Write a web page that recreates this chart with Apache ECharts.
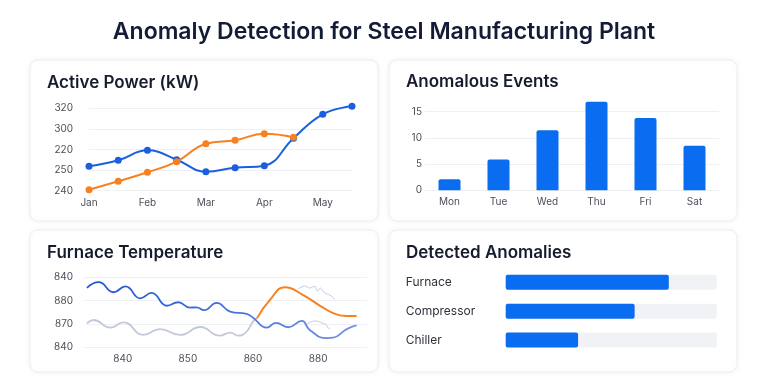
<!DOCTYPE html>
<html>
<head>
<meta charset="utf-8">
<script src="https://cdn.jsdelivr.net/npm/echarts@6/dist/echarts.min.js"></script>
<style>
html,body{margin:0;padding:0;background:#ffffff;}
#c{width:768px;height:382px;}
</style>
</head>
<body>
<div id="c"></div>
<script>
// ---- Data ----
var mainTitle = 'Anomaly Detection for Steel Manufacturing Plant';
var panelTitles = ['Active Power (kW)', 'Anomalous Events', 'Furnace Temperature', 'Detected Anomalies'];

// Active Power
var powerCategories = ['Jan', '', 'Feb', '', 'Mar', '', 'Apr', '', 'May', ''];
var powerTickLabels = {240: '240', 260: '250', 280: '220', 300: '300', 320: '320'};
var powerBlue = [263.7, 269.5, 279.2, 270.1, 258.5, 262.3, 264.3, 291, 314.2, 322];
var powerOrange = [241, 249.1, 257.9, 268.2, 285.6, 289, 295.3, 291.9];

// Anomalous Events
var eventDays = ['Mon', 'Tue', 'Wed', 'Thu', 'Fri', 'Sat'];
var eventCounts = [2.1, 5.9, 11.45, 16.9, 13.8, 8.5];

// Furnace Temperature
var furnaceXLabels = {840: '840', 850: '850', 860: '860', 870: '880'};
var furnaceYLabels = {840: '840', 850: '870', 860: '880', 870: '840'};
var furnaceBlue = [[834.5,865.5],[836.3,867.9],[838.6,863.6],[840.4,866.1],[842.7,861.0],[844.4,863.3],[846.8,857.8],[848.5,859.3],[850.3,857.0],[851.3,857.1],[852.5,855.9],[854.4,859.0],[856.5,855.3],[859.0,854.3],[860.0,852.7],[862.1,848.4],[863.5,850.5],[865.4,848.6],[867.5,851.3],[868.7,847.4],[871.3,843.9],[872.3,844.1],[874.4,847.8],[875.9,849.4]];
var furnaceGray = [[834.5,850.3],[835.5,851.7],[838.1,848.4],[840.1,850.7],[843.2,845.3],[845.7,847.8],[848.8,845.3],[851.9,848.7],[854.9,845.0],[856.5,846.3],[857.7,845.0],[859.0,846.7],[860.0,851.0],[860.6,852.4]];
var furnaceOrange = [[860.6,852.4],[862.6,860.3],[864.9,865.7],[867.7,862.4],[870.3,857.8],[872.8,854.1],[874.4,853.4],[875.9,853.4]];
var furnaceNoiseA = [[866.9,865.0],[867.9,866.3],[868.7,865.4],[869.5,866.2],[869.9,864.0],[870.3,865.5],[871.0,863.3],[871.8,862.4],[872.6,860.5]];
var furnaceNoiseB = [[868.2,850.0],[869.0,851.0],[869.7,851.3],[870.6,850.4],[871.2,849.8],[871.5,848.3],[871.8,848.1]];

// Detected Anomalies
var anomalySources = ['Furnace', 'Compressor', 'Chiller'];
var anomalyShares = [77.3, 61.1, 34.3];

// ---- Styles ----
var BLUE = '#1b5fe0';
var ORANGE = '#f7801f';
var BAR = '#0a6cf0';
var GRID = '#eef0f3';
var LABEL = '#4a4f5a';
var FONT = 'Inter, "Noto Sans", sans-serif';

var chart = echarts.init(document.getElementById('c'), null, {renderer: 'canvas'});

function card(x, y, w, h) {
  return {
    type: 'rect', z: -10, silent: true,
    shape: {x: x, y: y, width: w, height: h, r: 8},
    style: {fill: '#ffffff', stroke: '#eceef2', lineWidth: 1, shadowBlur: 6, shadowColor: 'rgba(20,30,60,0.05)'}
  };
}

function panelTitle(text, left, top) {
  return {text: text, left: left, top: top, padding: 0,
    textStyle: {fontFamily: FONT, fontSize: 17, fontWeight: 600, color: '#161c2d'}};
}

var axisLbl = {color: LABEL, fontSize: 10, fontFamily: FONT};

var option = {
  backgroundColor: '#ffffff',
  animation: false,
  graphic: [card(30, 60, 348, 161), card(389, 60, 348, 161), card(30, 230, 348, 142), card(389, 230, 348, 142)],
  title: [
    {text: mainTitle, left: 'center', top: 16,
      textStyle: {fontFamily: FONT, fontSize: 23, fontWeight: 600, color: '#141b36'}},
    panelTitle(panelTitles[0], 47, 74),
    panelTitle(panelTitles[1], 406, 73),
    panelTitle(panelTitles[2], 47, 244),
    panelTitle(panelTitles[3], 406, 244)
  ],
  grid: [
    {left: 89, right: 768 - 352, top: 108.3, bottom: 382 - 190.7},
    {left: 425, right: 768 - 719, top: 111.7, bottom: 382 - 190.3},
    {left: 85, right: 768 - 367, top: 277.3, bottom: 382 - 347.3},
    {left: 505.7, right: 768 - 716.7, top: 267.7, bottom: 382 - 354.6}
  ],
  xAxis: [
    {gridIndex: 0, type: 'category', data: powerCategories, boundaryGap: false,
      axisLine: {show: false}, axisTick: {show: false},
      axisLabel: Object.assign({margin: 7, interval: 0}, axisLbl)},
    {gridIndex: 1, type: 'category', data: eventDays,
      axisLine: {show: false}, axisTick: {show: false},
      axisLabel: Object.assign({margin: 7}, axisLbl)},
    {gridIndex: 2, type: 'value', min: 834.2, max: 877.5, splitNumber: 4,
      axisLine: {show: false}, axisTick: {show: false}, splitLine: {show: false},
      axisLabel: Object.assign({margin: 7, showMinLabel: false, showMaxLabel: false,
        formatter: function (v) { return furnaceXLabels[v] || ''; }}, axisLbl)},
    {gridIndex: 3, type: 'value', min: 0, max: 100, show: false}
  ],
  yAxis: [
    {gridIndex: 0, type: 'value', min: 240, max: 320, interval: 20,
      axisLine: {show: false}, axisTick: {show: false},
      splitLine: {lineStyle: {color: GRID}},
      axisLabel: Object.assign({margin: 16, formatter: function (v) { return powerTickLabels[v] || ''; }}, axisLbl)},
    {gridIndex: 1, type: 'value', min: 0, max: 15, interval: 5,
      axisLine: {show: false}, axisTick: {show: false},
      splitLine: {lineStyle: {color: GRID}},
      axisLabel: Object.assign({margin: 3}, axisLbl)},
    {gridIndex: 2, type: 'value', min: 840, max: 870, interval: 10,
      axisLine: {show: false}, axisTick: {show: false},
      splitLine: {lineStyle: {color: GRID}},
      axisLabel: Object.assign({margin: 12, formatter: function (v) { return furnaceYLabels[v] || ''; }}, axisLbl)},
    {gridIndex: 3, type: 'category', data: anomalySources, inverse: true,
      axisLine: {show: false}, axisTick: {show: false},
      axisLabel: {margin: 100, align: 'left', color: '#2e323a', fontSize: 12, fontFamily: FONT}}
  ],
  series: [
    {type: 'line', xAxisIndex: 0, yAxisIndex: 0, data: powerBlue, smooth: 0.45, clip: false,
      symbol: 'circle', symbolSize: 7, lineStyle: {color: BLUE, width: 2}, itemStyle: {color: BLUE}, z: 3},
    {type: 'line', xAxisIndex: 0, yAxisIndex: 0, data: powerOrange, smooth: 0.45, clip: false,
      symbol: 'circle', symbolSize: 7, lineStyle: {color: ORANGE, width: 2}, itemStyle: {color: ORANGE}, z: 4},
    {type: 'bar', xAxisIndex: 1, yAxisIndex: 1, data: eventCounts, barWidth: 22, clip: false,
      itemStyle: {color: BAR, borderRadius: [2, 2, 0, 0]}},
    {type: 'line', xAxisIndex: 2, yAxisIndex: 2, data: furnaceGray, smooth: 0.5, showSymbol: false,
      lineStyle: {color: '#c3c9d9', width: 1.8}, z: 2},
    {type: 'line', xAxisIndex: 2, yAxisIndex: 2, data: furnaceNoiseA, smooth: 0.2, showSymbol: false,
      lineStyle: {color: '#c2cce4', width: 1}, z: 2},
    {type: 'line', xAxisIndex: 2, yAxisIndex: 2, data: furnaceNoiseB, smooth: 0.2, showSymbol: false,
      lineStyle: {color: '#c2cce4', width: 1}, z: 2},
    {type: 'line', xAxisIndex: 2, yAxisIndex: 2, data: furnaceBlue, smooth: 0.5, showSymbol: false,
      lineStyle: {width: 1.8, color: {type: 'linear', x: 0, y: 0, x2: 1, y2: 0,
        colorStops: [{offset: 0, color: '#2253d4'}, {offset: 0.5, color: '#4470dc'}, {offset: 1, color: '#7592e6'}]}}, z: 3},
    {type: 'line', xAxisIndex: 2, yAxisIndex: 2, data: furnaceOrange, smooth: 0.5, showSymbol: false,
      lineStyle: {color: ORANGE, width: 2}, z: 4},
    {type: 'bar', xAxisIndex: 3, yAxisIndex: 3, data: anomalyShares, barWidth: 15,
      showBackground: true, backgroundStyle: {color: '#f1f2f5', borderRadius: 2},
      itemStyle: {color: BAR, borderRadius: 2}}
  ]
};
chart.setOption(option);
</script>
</body>
</html>
